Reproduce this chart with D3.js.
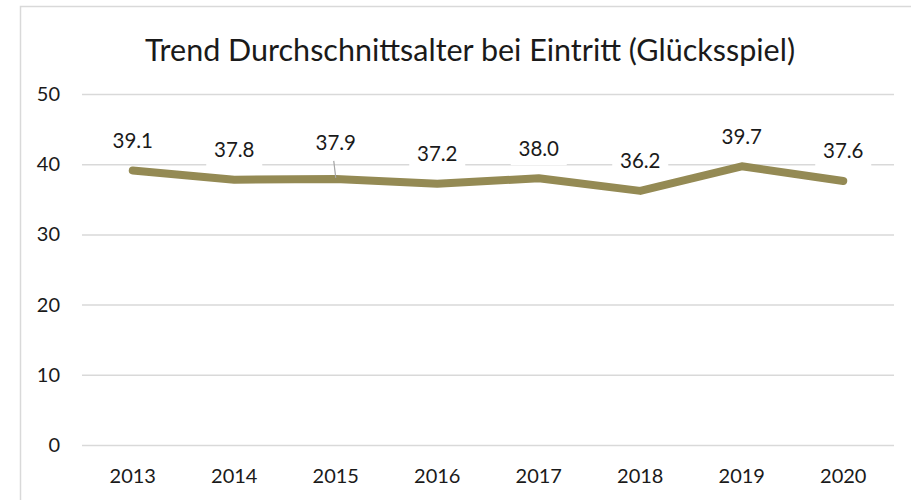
<!DOCTYPE html>
<html>
<head>
<meta charset="utf-8">
<script src="https://cdn.jsdelivr.net/npm/d3@7"></script>
<style>
    body { margin: 0; background: #ffffff; }
    svg { display: block; font-family: Lato, "Open Sans", sans-serif; }
</style>
</head>
<body>
<div id="chart"></div>
<script>
// chart data
const years = ["2013", "2014", "2015", "2016", "2017", "2018", "2019", "2020"];
const avgAge = [39.1, 37.8, 37.9, 37.2, 38.0, 36.2, 39.7, 37.6];
const yTicks = [0, 10, 20, 30, 40, 50];
const title = "Trend Durchschnittsalter bei Eintritt (Glücksspiel)";

const width = 911;
const height = 500;

const svg = d3.select("#chart")
    .append("svg")
    .attr("width", width)
    .attr("height", height);

// outer chart border (runs off the right and bottom edge)
svg.append("rect")
    .attr("x", 20.5)
    .attr("y", 6.5)
    .attr("width", 1000)
    .attr("height", 600)
    .attr("fill", "#ffffff")
    .attr("stroke", "#d9d9d9")
    .attr("stroke-width", 1.5);

const x = d3.scaleBand()
    .domain(years)
    .range([82, 894]);

const y = d3.scaleLinear()
    .domain([0, 50])
    .range([445, 94]);

svg.append("text")
    .attr("x", 470)
    .attr("y", 61)
    .attr("text-anchor", "middle")
    .attr("font-size", "30.5px")
    .attr("fill", "#1a1a1a")
    .text(title);

// horizontal gridlines
const yAxis = d3.axisLeft(y)
    .tickValues(yTicks)
    .tickSize(-(894 - 82))
    .tickPadding(22);

const yAxisG = svg.append("g")
    .attr("transform", "translate(82,0)")
    .call(yAxis);

yAxisG.select(".domain").remove();
yAxisG.selectAll(".tick line")
    .attr("stroke", "#d9d9d9")
    .attr("stroke-width", 1.5);
yAxisG.selectAll(".tick text")
    .attr("font-size", "20px")
    .attr("fill", "#1a1a1a")
    .attr("font-family", "Lato, sans-serif");

// year labels
const xAxis = d3.axisBottom(x)
    .tickSize(0)
    .tickPadding(24);

const xAxisG = svg.append("g")
    .attr("transform", "translate(0,445)")
    .call(xAxis);

xAxisG.select(".domain").remove();
xAxisG.selectAll(".tick text")
    .attr("font-size", "20px")
    .attr("fill", "#1a1a1a")
    .attr("font-family", "Lato, sans-serif");

const points = years.map((yr, i) => ({ year: yr, value: avgAge[i] }));
const cx = d => x(d.year) + x.bandwidth() / 2;

const line = d3.line()
    .x(cx)
    .y(d => y(d.value));

svg.append("path")
    .datum(points)
    .attr("d", line)
    .attr("fill", "none")
    .attr("stroke", "#948a54")
    .attr("stroke-width", 8)
    .attr("stroke-linecap", "round")
    .attr("stroke-linejoin", "round");

// data labels, 2015 was pulled up a bit and gets a leader line
const leaderYear = "2015";
const labelY = d => y(d.value) - (d.year === leaderYear ? 36 : 30);

svg.append("g")
    .selectAll("line")
    .data(points.filter(d => d.year === leaderYear))
    .enter()
    .append("line")
    .attr("x1", d => cx(d) - 2)
    .attr("y1", d => labelY(d) + 18)
    .attr("x2", d => cx(d))
    .attr("y2", d => y(d.value) - 1)
    .attr("stroke", "#a6a6a6")
    .attr("stroke-width", 1.2);

const labels = svg.append("g")
    .selectAll("g")
    .data(points)
    .enter()
    .append("g")
    .attr("transform", d => `translate(${cx(d)},${labelY(d)})`);

labels.append("rect")
    .attr("x", -28)
    .attr("y", -17)
    .attr("width", 56)
    .attr("height", 34)
    .attr("fill", "#ffffff");

labels.append("text")
    .attr("text-anchor", "middle")
    .attr("dy", "0.36em")
    .attr("font-size", "20.5px")
    .attr("fill", "#1a1a1a")
    .text(d => d.value.toFixed(1));
</script>
</body>
</html>
